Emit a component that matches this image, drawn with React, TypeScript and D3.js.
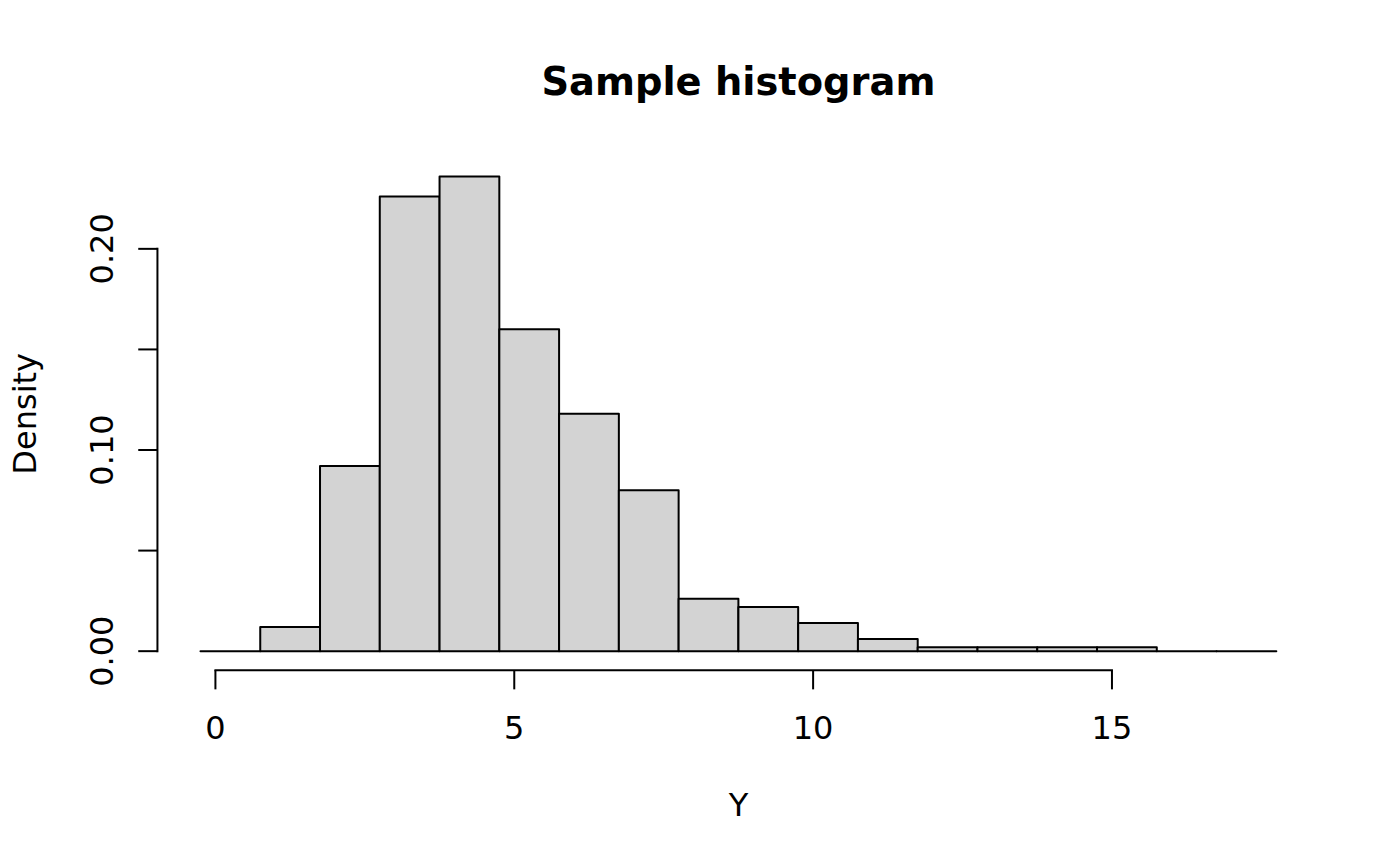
import React from "react";
import * as d3 from "d3";

const breaks = [-0.25, 0.75, 1.75, 2.75, 3.75, 4.75, 5.75, 6.75, 7.75, 8.75, 9.75, 10.75, 11.75, 12.75, 13.75, 14.75, 15.75, 16.75, 17.75];
const densities = [0, 0.012, 0.092, 0.226, 0.236, 0.16, 0.118, 0.08, 0.026, 0.022, 0.014, 0.006, 0.002, 0.002, 0.002, 0.002, 0, 0];
const xTicks = [0, 5, 10, 15];
const yTicks = [0, 0.05, 0.1, 0.15, 0.2];
const yTickLabels = [0, 0.1, 0.2];
const title = "Sample histogram";
const xLabel = "Y";
const yLabel = "Density";

const W = 1400;
const H = 866;
const LINE = 38.4;
const plot = { left: 4.1 * LINE, right: W - 2.1 * LINE, top: 4.1 * LINE, bottom: H - 5.1 * LINE };
const FONT = "'DejaVu Sans', sans-serif";

export default function App() {
  const lo = breaks[0];
  const hi = breaks[breaks.length - 1];
  const padX = 0.04 * (hi - lo);
  const x = d3.scaleLinear().domain([lo - padX, hi + padX]).range([plot.left, plot.right]);
  const maxD = d3.max(densities) as number;
  const padY = 0.04 * maxD;
  const y = d3.scaleLinear().domain([-padY, maxD + padY]).range([plot.bottom, plot.top]);
  const tick = 0.5 * LINE;

  const bins = densities.map((d, i) => ({ x0: breaks[i], x1: breaks[i + 1], d }));
  const line = d3.line<[number, number]>().x((p) => x(p[0])).y((p) => y(p[1]));
  const barPath = (b: { x0: number; x1: number; d: number }) =>
    line([
      [b.x0, 0],
      [b.x0, b.d],
      [b.x1, b.d],
      [b.x1, 0],
    ]) + "Z";

  return (
    <svg width={W} height={H} style={{ position: "absolute", left: 0, top: 0, background: "#fff" }} fontFamily={FONT}>
      <rect x={0} y={0} width={W} height={H} fill="#fff" />
      {bins.map((b, i) => (
        <path key={i} d={barPath(b)} fill="#D3D3D3" stroke="#000" strokeWidth={2} strokeLinejoin="round" />
      ))}
      {/* x axis */}
      <line x1={x(xTicks[0])} x2={x(xTicks[xTicks.length - 1])} y1={plot.bottom} y2={plot.bottom} stroke="#000" strokeWidth={2} strokeLinecap="square" />
      {xTicks.map((t) => (
        <g key={t}>
          <line x1={x(t)} x2={x(t)} y1={plot.bottom} y2={plot.bottom + tick} stroke="#000" strokeWidth={2} />
          <text x={x(t)} y={739} textAnchor="middle" fontSize={32} fill="#000">{t}</text>
        </g>
      ))}
      {/* y axis */}
      <line x1={plot.left} x2={plot.left} y1={y(yTicks[0])} y2={y(yTicks[yTicks.length - 1])} stroke="#000" strokeWidth={2} strokeLinecap="square" />
      {yTicks.map((t) => (
        <line key={t} x1={plot.left - tick} x2={plot.left} y1={y(t)} y2={y(t)} stroke="#000" strokeWidth={2} />
      ))}
      {yTickLabels.map((t) => (
        <text key={t} transform={`translate(113,${y(t)}) rotate(-90)`} textAnchor="middle" fontSize={32} fill="#000">
          {d3.format(".2f")(t)}
        </text>
      ))}
      {/* labels */}
      <text x={(plot.left + plot.right) / 2} y={95} textAnchor="middle" fontSize={38.4} fontWeight="bold" fill="#000">{title}</text>
      <text x={(plot.left + plot.right) / 2} y={816} textAnchor="middle" fontSize={32} fill="#000">{xLabel}</text>
      <text transform={`translate(36,${(plot.top + plot.bottom) / 2}) rotate(-90)`} textAnchor="middle" fontSize={32} fill="#000">{yLabel}</text>
    </svg>
  );
}
